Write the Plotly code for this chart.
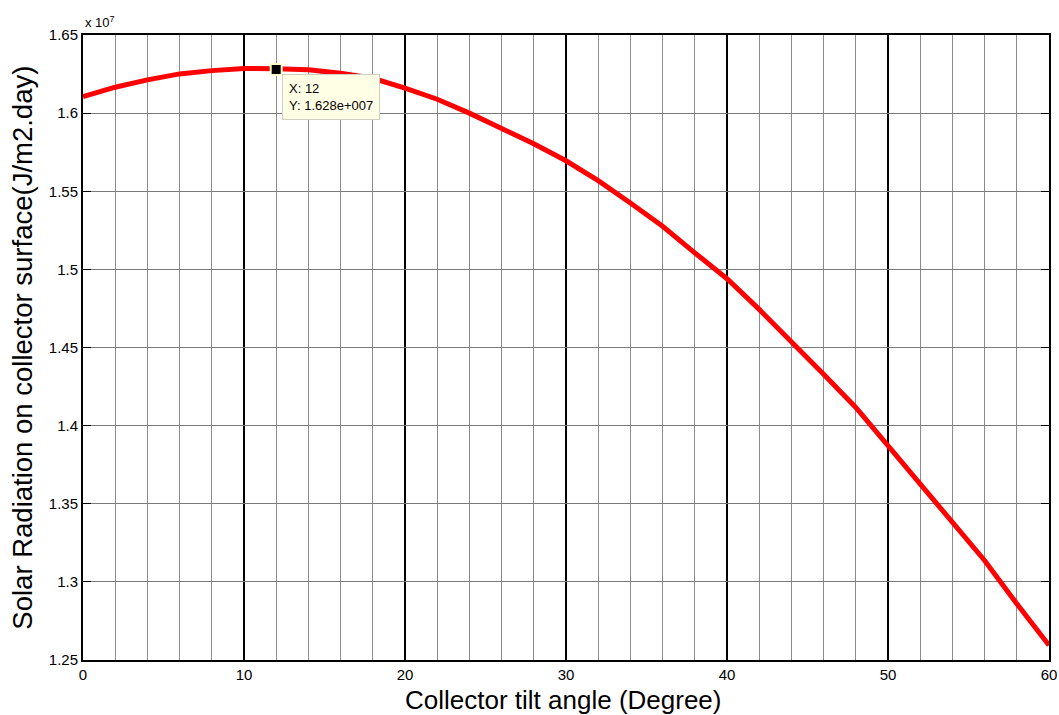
import plotly.graph_objects as go

# Collector tilt angle (degrees) and daily radiation on the collector (x 1e7 J/m2.day)
tilt_deg = [0, 2, 4, 6, 8, 10, 12, 14, 16, 18, 20, 22, 24, 26, 28, 30,
            32, 34, 36, 38, 40, 42, 44, 46, 48, 50, 52, 54, 56, 58, 60]
radiation_e7 = [1.6106, 1.6166, 1.6213, 1.6251, 1.6272, 1.6286, 1.6284, 1.6277,
                1.6255, 1.6223, 1.6160, 1.6089, 1.6000, 1.5904, 1.5804, 1.5695,
                1.5568, 1.5425, 1.5276, 1.5106, 1.4940, 1.4744, 1.4542, 1.4329,
                1.4116, 1.3871, 1.3637, 1.3392, 1.3137, 1.2860, 1.2594]

# Highlighted data point
tip_x = 12
tip_y = 1.628

y_ticks = [1.25, 1.3, 1.35, 1.4, 1.45, 1.5, 1.55, 1.6, 1.65]
y_tick_text = ["1.25", "1.3", "1.35", "1.4", "1.45", "1.5", "1.55", "1.6", "1.65"]

FONT = "Liberation Sans, Arial, sans-serif"

fig = go.Figure()

fig.add_trace(go.Scatter(
    x=tilt_deg, y=radiation_e7, mode="lines",
    line=dict(color="#ff0000", width=5),
    hoverinfo="skip", showlegend=False,
))

fig.add_trace(go.Scatter(
    x=[tip_x], y=[tip_y], mode="markers",
    marker=dict(symbol="square", size=11, color="black",
                line=dict(color="#ffffcc", width=2)),
    hoverinfo="skip", showlegend=False,
))

# Data tip label
fig.add_annotation(
    x=tip_x, y=tip_y, xref="x", yref="y",
    text="X: 12<br>Y: 1.628e+007",
    showarrow=False, xanchor="left", yanchor="top",
    xshift=6, yshift=-5,
    align="left",
    font=dict(family=FONT, size=13, color="black"),
    bgcolor="#ffffe6", bordercolor="#cfcfbf", borderwidth=1, borderpad=6,
)

# Exponent marker for the y axis
fig.add_annotation(
    x=0, y=1, xref="paper", yref="paper",
    text="x 10<sup>7</sup>", showarrow=False,
    xanchor="left", yanchor="bottom", yshift=3,
    font=dict(family=FONT, size=13, color="black"),
)

# Axis titles
fig.add_annotation(
    x=0.497, y=-0.064, xref="paper", yref="paper",
    text="Collector tilt angle (Degree)", showarrow=False,
    xanchor="center", yanchor="middle",
    font=dict(family=FONT, size=26, color="black"),
)
fig.add_annotation(
    x=-0.063, y=0.5, xref="paper", yref="paper",
    text="Solar Radiation on collector surface(J/m2.day)", showarrow=False,
    xanchor="center", yanchor="middle", textangle=-90,
    font=dict(family=FONT, size=27.5, color="black"),
)

fig.update_layout(
    width=1059, height=715,
    margin=dict(l=83, r=10, t=35, b=55),
    paper_bgcolor="white", plot_bgcolor="white",
    font=dict(family=FONT, color="black"),
    xaxis=dict(
        range=[0, 60], dtick=10, tick0=0,
        showgrid=True, gridcolor="black", gridwidth=1.5,
        minor=dict(dtick=2, showgrid=True, gridcolor="#8c8c8c", gridwidth=1),
        ticks="inside", ticklen=7, tickcolor="black",
        showline=True, linecolor="black", linewidth=2, mirror="ticks",
        zeroline=False, automargin=False,
        tickfont=dict(family=FONT, size=15),
    ),
    yaxis=dict(
        range=[1.25, 1.65],
        tickvals=y_ticks, ticktext=y_tick_text,
        showgrid=True, gridcolor="#7a7a7a", gridwidth=1,
        ticks="inside", ticklen=8, tickcolor="black",
        showline=True, linecolor="black", linewidth=2, mirror="ticks",
        zeroline=False, automargin=False,
        tickfont=dict(family=FONT, size=15),
    ),
)

fig.write_html("out.html")
